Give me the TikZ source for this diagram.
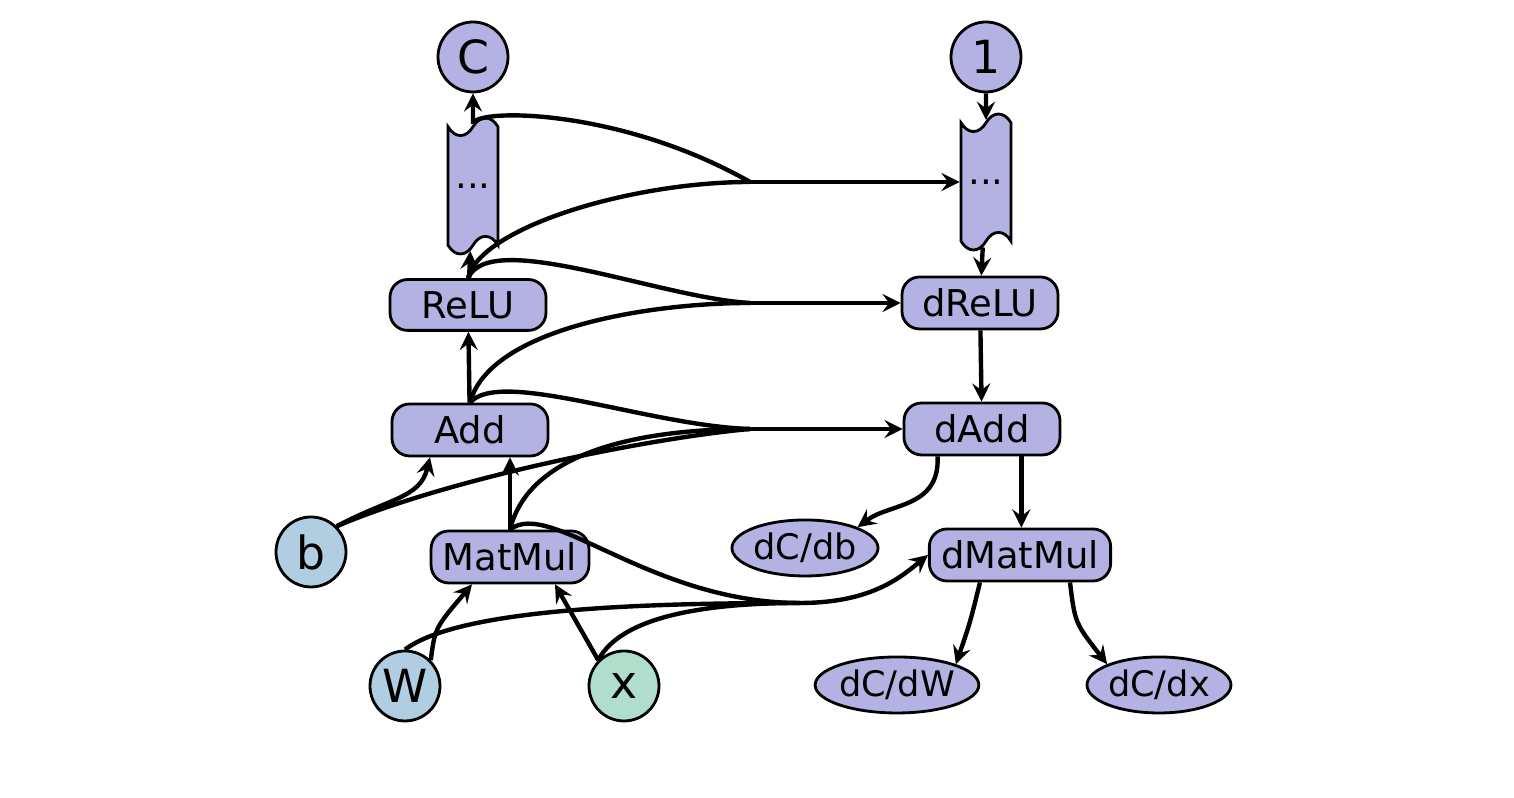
\documentclass[tikz,border=0pt]{standalone}
\usepackage{fontspec}
\setmainfont{DejaVu Sans}
\usetikzlibrary{shapes.geometric,shapes.symbols}
\definecolor{opfill}{RGB}{180,178,226}
\definecolor{varfill}{RGB}{176,205,225}
\definecolor{infill}{RGB}{175,222,205}
\begin{document}
\begin{tikzpicture}[semithick]
        \tikzset{
            opnode/.style={rectangle, rounded corners=5pt, draw=black, thick, fill=opfill,
                minimum width=1.56cm, minimum height=0.5cm, font=\fontsize{10.5}{12}\selectfont},
            valnode/.style={circle, draw=black, thick, minimum size=0.7cm, inner sep=0pt,
                font=\fontsize{13}{14}\selectfont},
            gradnode/.style={ellipse, draw=black, thick, fill=opfill, minimum width=1.26cm,
                minimum height=0.56cm, inner sep=0pt, font=\fontsize{10}{11}\selectfont},
            tapenode/.style={tape, shape border rotate=90, draw=black, thick, fill=opfill,
                minimum width=0.5cm, minimum height=1.36cm, inner sep=0pt, font=\fontsize{10.5}{12}\selectfont},
            link/.style={line width=1.25},
            edge/.style={link, -stealth}
        }
        \useasboundingbox (0,0) rectangle (15.14,7.98);

        \node[valnode, fill=opfill] (C) at (4.73,7.41){C};
        \node[valnode, fill=opfill] (one) at (9.86,7.41){1};
        \node[tapenode] (dotsL) at (4.73,6.12){...};
        \node[tapenode] (dotsR) at (9.86,6.16){...};
        \node[opnode] (relu) at (4.68,4.93){ReLU};
        \node[opnode] (drelu) at (9.80,4.95){dReLU};
        \node[opnode] (add) at (4.70,3.68){Add};
        \node[opnode] (dadd) at (9.82,3.69){dAdd};
        \node[valnode, fill=varfill] (b) at (3.11,2.46){b};
        \node[opnode] (matmul) at (5.10,2.41){MatMul};
        \node[gradnode] (dcdb) at (8.05,2.50){dC/db};
        \node[opnode] (dmatmul) at (10.20,2.43){dMatMul};
        \node[valnode, fill=varfill] (W) at (4.05,1.12){W};
        \node[valnode, fill=infill] (x) at (6.24,1.12){x};
        \node[gradnode] (dcdw) at (8.97,1.13){dC/dW};
        \node[gradnode] (dcdx) at (11.59,1.13){dC/dx};

        \coordinate (m1) at (7.5,6.16);
        \coordinate (m2) at (7.5,4.95);
        \coordinate (m3) at (7.5,3.69);
        \coordinate (m4) at (8.0,1.95);

        % forward pass
        \draw[edge] (dotsL) -- (C);
        \draw[edge] (relu) -- (dotsL);
        \draw[edge] (add) -- (relu);
        \draw[edge] (matmul.north) -- (matmul.north |- add.south);
        \draw[edge] (b.north east) .. controls (3.9,3.0) and (4.2,3.0) .. ([xshift=-0.4cm]add.south);
        \draw[edge] (W.north east) .. controls (4.35,1.7) .. ([xshift=-0.38cm]matmul.south);
        \draw[edge] (x.north west) -- ([xshift=0.45cm]matmul.south);

        % backward pass
        \draw[edge] (one) -- (dotsR);
        \draw[edge] (dotsR) -- (drelu);
        \draw[edge] (drelu) -- (dadd);
        \draw[edge] (dadd.south east) ++(-0.4,0) coordinate (da) -- (da |- dmatmul.north);
        \draw[edge] (dadd.south west) ++(0.35,0) .. controls (9.4,2.9) and (8.9,2.95) .. (dcdb.north east);
        \draw[edge] (dmatmul.south) ++(-0.4,0) .. controls (9.7,1.75) .. (dcdw.north east);
        \draw[edge] (dmatmul.south) ++(0.5,0) .. controls (10.75,1.75) .. (dcdx.north west);

        % saved values
        \draw[link] (dotsL.north) .. controls (4.75,6.9) and (6.2,6.9) .. (m1);
        \draw[link] (relu.north) .. controls (4.8,5.7) and (6.3,6.16) .. (m1);
        \draw[edge] (m1) -- (dotsR.west);
        \draw[link] (relu.north) .. controls (4.9,5.7) and (6.6,5.0) .. (m2);
        \draw[link] (add.north) .. controls (4.9,4.7) and (6.5,4.95) .. (m2);
        \draw[edge] (m2) -- (drelu.west);
        \draw[link] (add.north) .. controls (5.0,4.3) and (6.5,3.72) .. (m3);
        \draw[link] (b.north east) .. controls (4.5,3.2) and (6.5,3.6) .. (m3);
        \draw[link] (matmul.north) .. controls (5.3,3.5) and (6.5,3.69) .. (m3);
        \draw[edge] (m3) -- (dadd.west);
        \draw[link] (matmul.north) .. controls (5.5,3.0) and (6.5,1.95) .. (m4);
        \draw[link] (W.north) .. controls (4.6,1.9) and (6.5,1.95) .. (m4);
        \draw[link] (x.north west) .. controls (6.2,1.8) and (7.0,1.95) .. (m4);
        \draw[edge] (m4) .. controls (8.7,1.95) and (9.0,2.2) .. (dmatmul.west);
\end{tikzpicture}
\end{document}
